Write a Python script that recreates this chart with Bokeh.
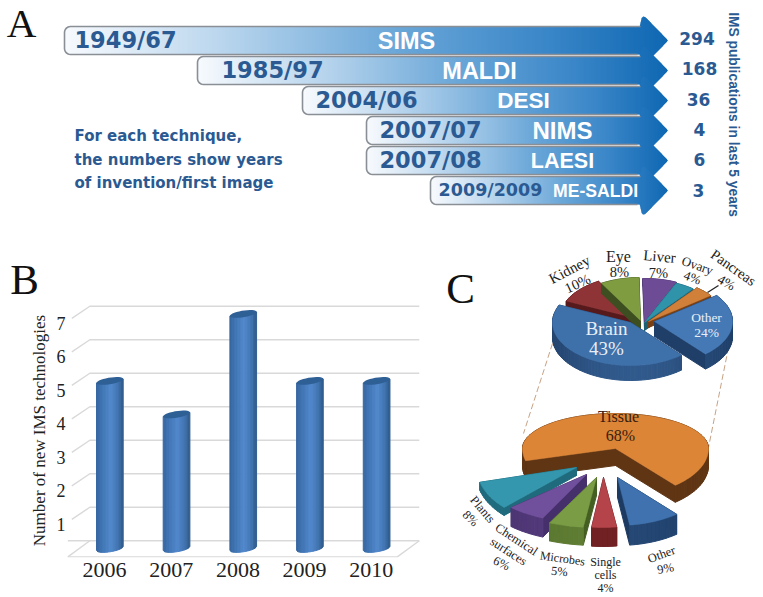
import math
from bokeh.plotting import figure
from bokeh.layouts import column, row
from bokeh.models import Range1d, FixedTicker
from bokeh.core.properties import value
from bokeh.embed import file_html
from bokeh.resources import INLINE

# ---------- data ----------
techniques = ["SIMS", "MALDI", "DESI", "NIMS", "LAESI", "ME-SALDI"]
year_labels = ["1949/67", "1985/97", "2004/06", "2007/07", "2007/08", "2009/2009"]
publications = [294, 168, 36, 4, 6, 3]
note_lines = ["For each technique,", "the numbers show years", "of invention/first image"]

years = ["2006", "2007", "2008", "2009", "2010"]
new_technologies = [5, 4, 7, 5, 5]

organ_names = ["Brain", "Other", "Pancreas", "Ovary", "Liver", "Eye", "Kidney"]
organ_pct = [43, 24, 4, 4, 7, 8, 10]
sample_names = ["Tissue", "Plants", "Chemical surfaces", "Microbes", "Single cells", "Other"]
sample_pct = [68, 8, 6, 5, 4, 9]

# ---------- helpers ----------
SERIF = value("Liberation Serif")
NAVY = "#2b5a92"

def h2r(h):
    return tuple(int(h[i:i + 2], 16) for i in (1, 3, 5))

def mix(c1, c2, t):
    a, b = h2r(c1), h2r(c2)
    return "#%02x%02x%02x" % tuple(round(a[i] + (b[i] - a[i]) * t) for i in range(3))

def ramp(stops, t):
    for (t0, c0), (t1, c1) in zip(stops, stops[1:]):
        if t <= t1:
            return mix(c0, c1, (t - t0) / (t1 - t0))
    return stops[-1][1]

def bare(fig):
    fig.grid.visible = False
    fig.outline_line_color = None
    fig.min_border = 0
    return fig

# ---------- panel A ----------
a = bare(figure(width=763, height=225, x_range=Range1d(0, 763), y_range=Range1d(225, 0),
                output_backend="svg", toolbar_location=None,
                x_axis_location=None, y_axis_location=None))
row_y = [40, 70, 100, 130, 160, 190]
row_left = [64, 197, 302, 366, 366, 430]
year_x = [125, 272, 366, 430, 430, 490]
year_size = [22.5, 22.5, 22.5, 22.5, 22.5, 17.5]
name_x = [406, 479, 523, 562, 562, 595]
name_size = [23.5, 23.5, 22.5, 24, 21.5, 17.6]
pub_x = [696.5, 699, 698, 699, 699, 698]
HEAD_X, TIP_X, BODY, HEAD = 642, 667, 14, 24
STOPS = [(0, "#f7fafd"), (.25, "#bcd7ee"), (.55, "#6ba7d8"), (.8, "#3a86c8"), (1, "#0f68b2")]
RAD = 6

def half_height(left, xm):
    if xm < left + RAD:
        return BODY - RAD + math.sqrt(max(0, RAD ** 2 - (left + RAD - xm) ** 2))
    if xm < HEAD_X - 3:
        return BODY
    if xm < HEAD_X - 1:
        return BODY + (HEAD - 2 - BODY) * (xm - HEAD_X + 3) / 2
    if xm < HEAD_X + 3:
        return HEAD - 1.5 * ((xm - HEAD_X - 1) / 2) ** 2
    hh = (HEAD - 1.5) * (TIP_X + .5 - xm) / (TIP_X - HEAD_X - 3)
    if xm > TIP_X - 6:
        hh = min(hh, math.sqrt(max(0, 36 - (xm - TIP_X + 6) ** 2)) * 1.05)
    return hh

for i, tech in enumerate(techniques):
    cy, left = row_y[i], row_left[i]
    xs, ys, cols = [], [], []
    x = left
    while x < TIP_X:
        x1 = min(x + 1.0, TIP_X)
        h0, h1 = half_height(left, x), half_height(left, x1)
        xs.append([x, x1 + .5, x1 + .5, x])
        ys.append([cy - h0, cy - h1, cy + h1, cy + h0])
        cols.append(ramp(STOPS, (x - left) / (TIP_X - left)))
        x = x1
    a.patches(xs, ys, fill_color=cols, line_color=None)
    ox = [HEAD_X - 2, left + RAD]
    oy = [cy - BODY, cy - BODY]
    for k in range(90, 181, 15):
        ox.append(left + RAD + RAD * math.cos(math.radians(k)))
        oy.append(cy - BODY + RAD - RAD * math.sin(math.radians(k)))
    for k in range(180, 271, 15):
        ox.append(left + RAD + RAD * math.cos(math.radians(k)))
        oy.append(cy + BODY - RAD - RAD * math.sin(math.radians(k)))
    ox += [HEAD_X - 5]
    oy += [cy + BODY]
    a.line(ox, oy, line_color="#8a8f96", line_width=1.6)
    a.text([year_x[i]], [cy - 1], [year_labels[i]], text_font=value("DejaVu Sans"), text_font_style="bold",
           text_font_size=f"{year_size[i]}px", text_color=NAVY, text_align="center", text_baseline="middle")
    a.text([name_x[i]], [cy], [tech], text_font=value("Liberation Sans"), text_font_style="bold",
           text_font_size=f"{name_size[i]}px", text_color="#ffffff", text_align="center", text_baseline="middle")
    a.text([pub_x[i]], [cy - 2 + i * .3], [str(publications[i])], text_font=value("DejaVu Sans"), text_font_style="bold",
           text_font_size="17px", text_color=NAVY, text_align="center", text_baseline="middle")

a.text([74, 74, 74], [135, 159, 182], note_lines, text_font=value("DejaVu Sans"), text_font_style="bold",
       text_font_size="15px", text_color=NAVY, text_align="left", text_baseline="middle")
a.text([733], [114], ["IMS publications in last 5 years"], angle=-math.pi / 2, text_font=value("Liberation Sans"),
       text_font_style="bold", text_font_size="13.8px", text_color=NAVY, text_align="center", text_baseline="middle")
a.text([21], [22.5], ["A"], text_font=SERIF, text_font_size="41px", text_color="#111111",
       text_align="center", text_baseline="middle")

# ---------- panel B ----------
strip = bare(figure(width=422, height=78, x_range=Range1d(0, 422), y_range=Range1d(303, 225),
                    output_backend="svg", toolbar_location=None,
                    x_axis_location=None, y_axis_location=None))
strip.text([24], [279], ["B"], text_font=SERIF, text_font_size="43px", text_color="#111111",
           text_align="center", text_baseline="middle")

PITCH_Y = 33.5
YOFF = 0
b = figure(width=422, height=294, x_range=Range1d(-.57, 4.768), y_range=Range1d(YOFF, YOFF + 254 / PITCH_Y),
           output_backend="svg", toolbar_location=None)
b.outline_line_color = None
b.grid.visible = False
b.min_border_left = 66
b.min_border_right = 0
b.min_border_top = 0
b.min_border_bottom = 40
xa, ya = b.xaxis[0], b.yaxis[0]
xa.ticker = FixedTicker(ticks=list(range(len(years))))
xa.major_label_overrides = {i: y for i, y in enumerate(years)}
ya.ticker = FixedTicker(ticks=[1, 2, 3, 4, 5, 6, 7])
for ax in (xa, ya):
    ax.axis_line_color = None
    ax.major_tick_line_color = None
    ax.minor_tick_line_color = None
    ax.major_tick_out = 0
    ax.major_tick_in = 0
    ax.major_label_text_font = "Liberation Serif"
    ax.major_label_text_color = "#222222"
xa.major_label_text_font_size = "22px"
ya.major_label_text_font_size = "18px"
xa.major_label_standoff = 5
ya.major_label_standoff = 1
ya.axis_label = "Number of new IMS technologies"
ya.axis_label_text_font = "Liberation Serif"
ya.axis_label_text_font_style = "normal"
ya.axis_label_text_font_size = "17px"
ya.axis_label_text_color = "#222222"
ya.axis_label_standoff = 5

DX, DY = .33, .5 + YOFF
FLOOR = YOFF + .02
XL, XB = -.55, 4.39
XR_BACK = 4.72
GRID = "#d9d9d9"
for v in range(8):
    if v == 0:
        b.line([XL, XL + DX, XR_BACK], [DY, DY, DY], line_color=GRID, line_width=1.4)
        b.line([XL, XB, XB + DX], [FLOOR, FLOOR, DY], line_color=GRID, line_width=1.4)
        b.line([XL, XL + DX], [FLOOR, DY], line_color=GRID, line_width=1.4)
    else:
        b.line([XL + .06, XL + DX, XR_BACK], [v + FLOOR + .12, v + DY, v + DY], line_color=GRID, line_width=1.4)

HW, EB, TILT, BX, BY = .2, .1, .06, .08, .27 + YOFF
BAR_STOPS = [(0, "#36659f"), (.2, "#3f74b2"), (.55, "#5289cd"), (.85, "#3f72ad"), (1, "#2f5a8a")]
for i, v in enumerate(new_technologies):
    xs, ys, cols = [], [], []
    cx = i + BX
    n = 18
    for k in range(n):
        t0, t1 = -1 + 2 * k / n, -1 + 2 * (k + 1) / n
        bot0 = BY + TILT * t0 - EB * math.sqrt(max(0, 1 - t0 ** 2))
        bot1 = BY + TILT * t1 - EB * math.sqrt(max(0, 1 - t1 ** 2))
        xs.append([cx + HW * t0, cx + HW * t1, cx + HW * t1, cx + HW * t0])
        ys.append([v + BY + TILT * t0, v + BY + TILT * t1, bot1, bot0])
        cols.append(ramp(BAR_STOPS, (k + .5) / n))
    b.patches(xs, ys, fill_color=cols, line_color=cols, line_width=1)
    ex, ey = [], []
    for k in range(0, 360, 12):
        c_, s_ = math.cos(math.radians(k)), math.sin(math.radians(k))
        ex.append(cx + HW * c_)
        ey.append(v + BY + TILT * c_ + EB * s_)
    b.patch(ex, ey, fill_color="#2e5f95", line_color=None)

# ---------- panel C ----------
c = bare(figure(width=341, height=372, x_range=Range1d(422, 763), y_range=Range1d(597, 225),
                output_backend="svg", toolbar_location=None,
                x_axis_location=None, y_axis_location=None))

def slices(pcts, start):
    out, th = [], start
    for p_ in pcts:
        out.append((th, th + p_ * 3.6))
        th += p_ * 3.6
    return out

def draw_slice(fig, th0, th1, cx, cy, ra, rb_back, rb_front, depth, top, side, rim_mix=0.0):
    pts = [(cx, cy)]
    n = max(3, int((th1 - th0) / 2.5))
    for k in range(n + 1):
        th = math.radians(th0 + (th1 - th0) * k / n)
        sn = math.sin(th)
        pts.append((cx + ra * math.cos(th), cy - sn * (rb_back if sn > 0 else rb_front)))
    xs, ys, cols = [], [], []
    m = len(pts)
    order = sorted(range(m), key=lambda e: pts[e][1] + pts[(e + 1) % m][1])
    for e in order:
        p0, p1 = pts[e], pts[(e + 1) % m]
        xs.append([p0[0], p1[0], p1[0], p0[0]])
        ys.append([p0[1], p1[1], p1[1] + depth, p0[1] + depth])
        if e == 0 or e == m - 1:
            cols.append(side)
        else:
            xm = (p0[0] + p1[0]) / 2
            f = max(0, 1 - abs((xm - cx) / ra) ** 2)
            cols.append(mix(side, top, rim_mix * f))
    fig.patches(xs, ys, fill_color=cols, line_color=cols, line_width=1)
    fig.patch([q[0] for q in pts], [q[1] for q in pts], fill_color=top, line_color=top, line_width=.5)

# dashed guides
c.line([552, 523], [343, 433], line_color="#c8a285", line_dash="6 3", line_width=1)
c.line([728, 708], [347, 447], line_color="#c8a285", line_dash="6 3", line_width=1)

organ_ang = slices(organ_pct, 156)
organ_style = {
    "Kidney": (637, 318, 8, "#8e3437", "#571a1c", 0),
    "Eye": (640, 320, 10, "#7f9d40", "#3d4f20", 0),
    "Liver": (644, 321, 8, "#6e4c95", "#46306a", 0),
    "Ovary": (644, 322, 8, "#2f93a9", "#1c6072", 0),
    "Pancreas": (648, 321, 6, "#d1803a", "#7a4014", 0),
    "Other": (654, 321, 15, "#4579b6", "#1f3f68", .3),
    "Brain": (630, 322, 15, "#3e70aa", "#24446e", .5),
}
for nm in ["Kidney", "Eye", "Liver", "Ovary", "Pancreas", "Other", "Brain"]:
    i = organ_names.index(nm)
    cx, cy, d, top, side, rm = organ_style[nm]
    draw_slice(c, organ_ang[i][0], organ_ang[i][1], cx, cy, 78, 43, 43, d, top, side, rm)

sample_ang = slices(sample_pct, 310)
sample_style = {
    "Tissue": (615, 448, 93, 35, 48, 17, "#dc8536", "#5f3514", 0),
    "Plants": (576, 467, 100, 58, 58, 8, "#3497ad", "#1f6a7c", .1),
    "Chemical surfaces": (586, 474, 104, 48, 48, 19, "#70509c", "#46306c", .35),
    "Microbes": (596, 477, 112, 50, 50, 18, "#7a9c45", "#455f22", .5),
    "Single cells": (603, 477, 100, 50, 50, 19, "#b5444a", "#6a1c1f", .1),
    "Other": (617, 477, 92, 48, 48, 20, "#3f72ae", "#1c3a62", .25),
}
for nm in sample_names:
    i = sample_names.index(nm)
    cx, cy, ra, rbb, rbf, d, top, side, rm = sample_style[nm]
    draw_slice(c, sample_ang[i][0], sample_ang[i][1], cx, cy, ra, rbb, rbf, d, top, side, rm)

c.line([707, 718], [292, 285], line_color="#222222", line_width=1.3)

def ctext(x, y, s, size, color="#222222", ang=0):
    c.text([x], [y], [s], angle=math.radians(ang), text_font=SERIF, text_font_size=f"{size}px",
           text_color=color, text_align="center", text_baseline="middle")

pct = dict(zip(organ_names, organ_pct))
ctext(569, 269, "Kidney", 15, ang=28); ctext(577, 283, f"{pct['Kidney']}%", 14.5, ang=25)
ctext(618, 256, "Eye", 16); ctext(619, 271, f"{pct['Eye']}%", 14.5)
ctext(659, 256, "Liver", 15, ang=-5); ctext(658, 272, f"{pct['Liver']}%", 14.5)
ctext(697, 265, "Ovary", 13, ang=-20); ctext(692, 277, f"{pct['Ovary']}%", 13, ang=-20)
ctext(733, 267, "Pancreas", 14.5, ang=-35); ctext(726, 282, f"{pct['Pancreas']}%", 13.5, ang=-30)
ctext(606, 328, "Brain", 19, "#e8eef6"); ctext(606, 348, f"{pct['Brain']}%", 19, "#e8eef6")
ctext(706, 317, "Other", 13.5, "#e8eef6"); ctext(706, 332, f"{pct['Other']}%", 13.5, "#e8eef6")

sp = dict(zip(sample_names, sample_pct))
ctext(618, 416, "Tissue", 16, "#3a2010"); ctext(620, 435, f"{sp['Tissue']}%", 16, "#3a2010")
ctext(482, 509, "Plants", 12.5, ang=-50); ctext(470, 518, f"{sp['Plants']}%", 12.5, ang=-45)
ctext(516, 539, "Chemical", 12.5, ang=-33); ctext(508, 551, "surfaces", 12.5, ang=-33)
ctext(501, 563, f"{sp['Chemical surfaces']}%", 12.5, ang=-25)
ctext(562, 558, "Microbes", 12, ang=-8); ctext(559, 571, f"{sp['Microbes']}%", 12.5, ang=-5)
ctext(605, 561, "Single", 12); ctext(605, 574, "cells", 12); ctext(605, 587, f"{sp['Single cells']}%", 12)
ctext(661, 554, "Other", 12.5, ang=20); ctext(665, 568, f"{sp['Other']}%", 12.5, ang=10)
ctext(460, 288, "C", 43, "#111111")

page = column(a, row(column(column(strip), column(b), spacing=0), column(c), spacing=0), spacing=0)
open("out.html", "w").write(file_html(page, INLINE))
